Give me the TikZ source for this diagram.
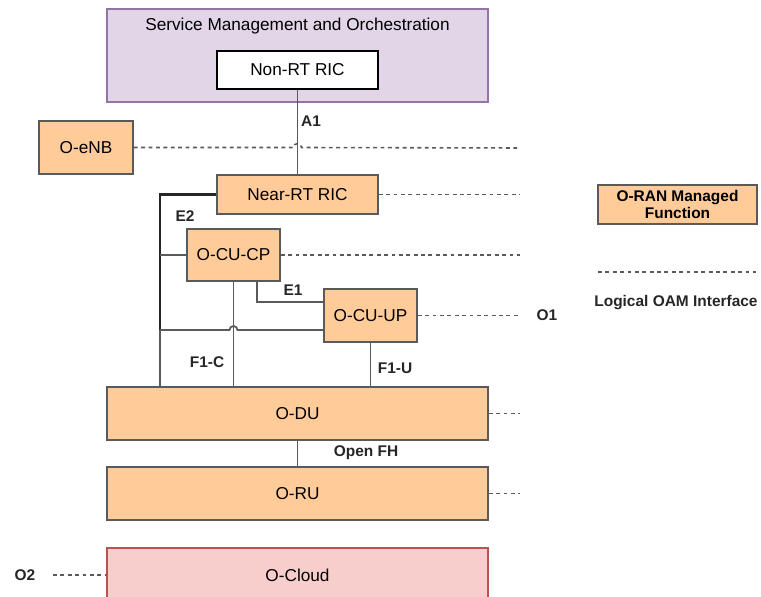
\documentclass[tikz,border=0pt]{standalone}
\usepackage{fontspec}
\setmainfont{Liberation Sans}
\usetikzlibrary{positioning}
\definecolor{fnfill}{HTML}{FFCC99}
\definecolor{smofill}{HTML}{E1D5E7}
\definecolor{smodraw}{HTML}{9673A6}
\definecolor{cloudfill}{HTML}{F8CECC}
\definecolor{clouddraw}{HTML}{B85450}
\definecolor{linegray}{HTML}{5A5A5A}
\tikzstyle{fn} = [draw=linegray, fill=fnfill, line width=1pt, inner sep=0pt, font=\fontsize{9.8}{11.5}\selectfont]
\tikzstyle{conn} = [linegray, line width=1pt]
\tikzstyle{oam} = [linegray, line width=0.9pt, dash pattern=on 2.2pt off 2pt]
\tikzstyle{lbl} = [inner sep=0pt, font=\fontsize{8.8}{10.5}\selectfont\bfseries, text=black!85]

\begin{document}
\begin{tikzpicture}[x=0.02cm, y=-0.02cm]
  \useasboundingbox (0,0) rectangle (761,597);

  % SMO
  \node[draw=smodraw, fill=smofill, line width=1pt, minimum width=7.62cm, minimum height=1.86cm] (smo) at (297.5,55.5) {};
  \node[inner sep=0pt, font=\fontsize{9.8}{11.5}\selectfont] (smotitle) at (297.5,26) {Service Management and Orchestration};
  \node[fn, fill=white, draw=black, minimum width=3.22cm, minimum height=0.76cm] (nonrt) at (297.5,70) {Non-RT RIC};

  % FUNCTIONS
  \node[fn, minimum width=1.88cm, minimum height=1.06cm] (oenb) at (86,147.5) {O-eNB};
  \node[fn, minimum width=3.22cm, minimum height=0.78cm] (nearrt) at (297.5,194.5) {Near-RT RIC};
  \node[fn, minimum width=1.86cm, minimum height=1.04cm] (ocucp) at (233.5,255) {O-CU-CP};
  \node[fn, minimum width=1.86cm, minimum height=1.06cm] (ocuup) at (370.5,315.5) {O-CU-UP};
  \node[fn, minimum width=7.62cm, minimum height=1.06cm] (odu) at (297.5,413.5) {O-DU};
  \node[fn, minimum width=7.62cm, minimum height=1.06cm] (oru) at (297.5,493.5) {O-RU};
  \node[fn, draw=clouddraw, fill=cloudfill, minimum width=7.62cm, minimum height=1.08cm] (ocloud) at (297.5,575) {O-Cloud};

  % LEGEND
  \node[fn, minimum width=3.18cm, minimum height=0.78cm, align=center, font=\fontsize{8.8}{9.8}\selectfont\bfseries] (legfn) at (677.5,204.5) {O-RAN Managed\\Function};
  \coordinate (legl) at (598,272);
  \coordinate (legr) at (756,272);
  \draw[oam] (legl) -- (legr);
  \node[lbl, anchor=west] (legoam) at (594,303) {Logical OAM Interface};

  % INTERFACES
  % A1
  \draw[conn] (nonrt.south) -- (nearrt.north);
  \node[lbl] (a1) at (311,121) {A1};
  % E2
  \coordinate (e2bus) at (160,194.5);
  \coordinate (e2up) at ([yshift=-0.29cm]ocuup.west);
  \draw[line width=1.2pt, black!85] (nearrt.west) -- (e2bus) -- (e2bus |- e2up);
  \draw[conn] (e2bus |- e2up) -- (e2bus |- odu.north);
  \draw[conn] (ocucp.west) -- (ocucp.west -| e2bus);
  \draw[conn] (e2up) -- ([xshift=0.08cm]e2up -| ocucp.south) arc (0:180:0.08cm) -- (e2bus |- e2up);
  \node[lbl] (e2) at (185,216) {E2};
  % E1
  \draw[conn] ([xshift=0.47cm]ocucp.south) |- ([yshift=0.27cm]ocuup.west);
  \node[lbl] (e1) at (293,290) {E1};
  % F1
  \draw[conn] (ocucp.south) -- (ocucp.south |- odu.north);
  \node[lbl] (f1c) at (207,362) {F1-C};
  \draw[conn] (ocuup.south) -- (ocuup.south |- odu.north);
  \node[lbl] (f1u) at (395,368) {F1-U};
  % Open FH
  \draw[conn] (odu.south) -- (oru.north);
  \node[lbl] (ofh) at (366,453) {Open FH};

  % O1
  \coordinate (o1end) at (520,148);
  \draw[oam] (oenb.east) -- ([xshift=-0.08cm]oenb.east -| nonrt.south) arc (180:0:0.08cm) -- (o1end);
  \draw[oam] (nearrt.east) -- (nearrt.east -| o1end);
  \draw[oam] (ocucp.east) -- (ocucp.east -| o1end);
  \draw[oam] (ocuup.east) -- (ocuup.east -| o1end);
  \draw[oam] (odu.east) -- (odu.east -| o1end);
  \draw[oam] (oru.east) -- (oru.east -| o1end);
  \node[lbl] (o1) at (547,315) {O1};

  % O2
  \node[lbl] (o2) at (25,575) {O2};
  \draw[oam] (53,575) -- (ocloud.west);
\end{tikzpicture}
\end{document}
